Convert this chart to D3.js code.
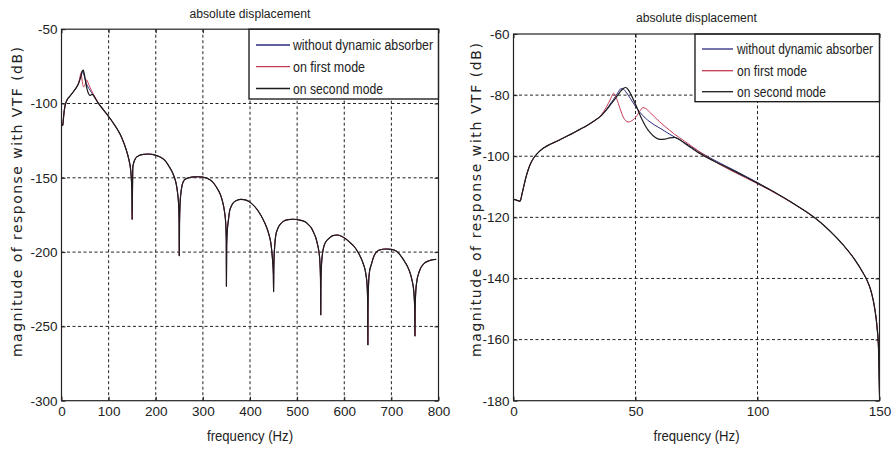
<!DOCTYPE html>
<html>
<head>
<meta charset="utf-8">
<script src="https://cdn.jsdelivr.net/npm/d3@7"></script>
<style>
  body { margin: 0; background: #fff; }
  svg text { font-family: "Liberation Sans", Arial, sans-serif; fill: #222; }
</style>
</head>
<body>
<svg id="chart" width="896" height="449"></svg>
<script>
// ---- response data (dB) ----
// low-frequency range, where the three configurations differ
const freqLow = [0, 1, 2, 2.7, 3.5, 4, 5, 6, 7, 8, 9, 10, 12, 15, 18, 21, 24, 27, 30, 33,
  36, 38, 40, 41, 42, 43, 44, 45, 46, 47, 48, 50, 52, 53, 54, 56, 58, 60, 62, 64,
  66, 68, 70, 73, 76, 80, 85, 90, 95, 100, 105, 110, 115, 120, 125, 130, 135, 140, 143, 145,
  146, 147, 148, 149, 149.6];

const withoutAbsorber = [-114.1, -114.3, -114.6, -114.7, -112.3, -110.6, -107.2, -104.5, -102.4, -100.9, -99.8, -98.9, -97.5, -96.1, -95.0, -93.8, -92.6, -91.3, -90.0, -88.5,
  -86.6, -84.8, -82.5, -81.4, -80.2, -78.9, -77.9, -78.0, -78.9, -80.0, -81.2, -83.7, -85.8, -86.7, -87.5, -88.8, -89.9, -90.8, -91.8, -92.8,
  -93.7, -94.6, -95.5, -97.0, -98.5, -100.3, -102.4, -104.4, -106.5, -108.6, -110.9, -113.2, -115.6, -118.2, -121.1, -124.7, -128.9, -134.0, -137.8, -140.8,
  -142.8, -145.6, -149.6, -156.0, -163.0];

const onFirstMode = [-114.1, -114.3, -114.6, -114.7, -112.3, -110.6, -107.2, -104.5, -102.4, -100.9, -99.8, -98.9, -97.5, -96.1, -95.0, -93.8, -92.6, -91.3, -90.0, -88.5,
  -86.4, -84.0, -80.9, -79.4, -80.6, -82.8, -85.2, -87.2, -88.4, -88.8, -88.6, -87.3, -85.0, -84.1, -84.3, -85.7, -87.3, -88.8, -90.2, -91.5,
  -92.8, -93.9, -95.0, -96.7, -98.4, -100.5, -102.9, -105.0, -107.0, -109.0, -111.1, -113.3, -115.7, -118.2, -121.1, -124.7, -128.9, -134.0, -137.8, -140.8,
  -142.8, -145.6, -149.6, -156.0, -163.0];

const onSecondMode = [-114.1, -114.3, -114.6, -114.7, -112.3, -110.6, -107.2, -104.5, -102.4, -100.9, -99.8, -98.9, -97.5, -96.1, -95.0, -93.8, -92.6, -91.3, -90.0, -88.5,
  -86.7, -84.9, -82.9, -81.9, -80.8, -79.7, -78.6, -77.8, -77.5, -78.2, -79.6, -83.0, -86.8, -88.5, -90.0, -92.3, -93.8, -94.5, -94.4, -94.0,
  -93.8, -94.5, -95.7, -97.3, -98.9, -100.7, -102.7, -104.7, -106.7, -108.8, -110.9, -113.2, -115.6, -118.2, -121.1, -124.7, -128.9, -134.0, -137.8, -140.8,
  -142.8, -145.6, -149.6, -156.0, -163.0];

// high-frequency range, identical for all three configurations
const freqHigh = [150, 150.6, 151.3, 153, 157, 162, 168, 176, 185, 195, 205, 214, 222, 228.5, 234, 239, 243, 246.4, 248.5, 249.6,
  250, 250.5, 251.5, 253.5, 256, 260.5, 266, 272, 282, 291, 300, 310, 318, 325, 332, 338, 342.5, 346, 348.5, 349.7,
  350, 350.5, 352, 354, 356.5, 360, 363.5, 370.6, 381, 390, 398.5, 407, 416, 423, 430, 436, 440.5, 444, 446, 448, 449.6,
  450, 450.5, 452, 454.3, 459.2, 465, 470, 480.6, 492, 503, 516.4, 524, 530.7, 536, 540, 543, 545.7, 548.5, 549.7,
  550, 550.4, 551.5, 553.5, 556.5, 561, 568, 576, 585, 594, 603.6, 612, 621.5, 629, 635.8, 641, 645, 648.7, 649.7,
  650, 650.3, 651.5, 653.6, 657.2, 664, 674.7, 688.8, 700, 710, 717, 723.8, 729, 734.4, 739.5, 743.7, 747.9, 749.6,
  750, 750.4, 751.5, 753.4, 759.1, 769.6, 780.2, 788, 795];

const tailResponse = [-178, -160, -143, -140.2, -137, -135.5, -134.6, -134.2, -134, -134.4, -135.4, -136.9, -139.3, -142.5, -145.5, -149.3, -153.5, -160.4, -168, -180,
  -202.5, -180, -168, -160, -155, -151.6, -150.4, -149.8, -149.4, -149.3, -149.6, -150.5, -152, -154.5, -158, -162, -167, -173, -181, -192,
  -223, -195, -185, -179, -172.8, -169.3, -167.2, -165.4, -164.5, -164.9, -166.1, -168.4, -171.7, -175.2, -179.5, -184, -188.5, -193.5, -198.6, -206, -215,
  -226.6, -210, -198, -189.6, -184, -181, -179.5, -178.2, -177.9, -178.3, -179.5, -181.5, -184, -187.5, -190.7, -194.5, -198.6, -207.5, -220,
  -242.3, -222, -210, -202, -196.5, -193, -190.7, -188.9, -188.5, -189.3, -191.2, -193.5, -196.4, -200, -204.2, -208.5, -213.2, -223.3, -235,
  -262.5, -240, -222, -213.2, -208.7, -202, -198.6, -197.9, -198.2, -199.2, -201.3, -204.2, -206.8, -209.8, -213.8, -218.8, -227.7, -240,
  -256.5, -240, -228, -221, -213.2, -207.6, -205.8, -205.1, -204.9];

const seriesNames = ["without dynamic absorber", "on first mode", "on second mode"];
const seriesLow = [withoutAbsorber, onFirstMode, onSecondMode];
const seriesColors = ["#2b2b82", "#c63a55", "#1c1c1c"];
const seriesWidths = [1.0, 1.0, 1.2];

// tick labels for the two panels
const leftXTicks = [0, 100, 200, 300, 400, 500, 600, 700, 800];
const leftYTicks = [-300, -250, -200, -150, -100, -50];
const rightXTicks = [0, 50, 100, 150];
const rightYTicks = [-180, -160, -140, -120, -100, -80, -60];

const panelTitle = "absolute displacement";
const xLabel = "frequency (Hz)";
const yLabel = "magnitude of response with VTF (dB)";

// ---- build full series ----
const fullSeries = seriesLow.map((vals, k) => ({
  name: seriesNames[k],
  color: seriesColors[k],
  width: seriesWidths[k],
  points: freqLow.map((f, i) => [f, vals[i]])
    .concat(freqHigh.map((f, i) => [f, tailResponse[i]]))
}));

const svg = d3.select("#chart");

function drawPanel(cfg) {
  const g = svg.append("g");
  const x = d3.scaleLinear().domain(cfg.xDomain).range([cfg.left, cfg.right]);
  const y = d3.scaleLinear().domain(cfg.yDomain).range([cfg.bottom, cfg.top]);

  // dashed grid
  g.append("g").selectAll("line")
    .data(cfg.xTicks.filter(t => t !== cfg.xDomain[0] && t !== cfg.xDomain[1]))
    .join("line")
    .attr("x1", d => x(d)).attr("x2", d => x(d))
    .attr("y1", cfg.top).attr("y2", cfg.bottom)
    .attr("stroke", "#222").attr("stroke-width", 1).attr("stroke-dasharray", "3,2.5");
  g.append("g").selectAll("line")
    .data(cfg.yTicks.filter(t => t !== cfg.yDomain[0] && t !== cfg.yDomain[1]))
    .join("line")
    .attr("x1", cfg.left).attr("x2", cfg.right)
    .attr("y1", d => y(d)).attr("y2", d => y(d))
    .attr("stroke", "#222").attr("stroke-width", 1).attr("stroke-dasharray", "3,2.5");

  // curves
  const clipId = "clip-" + cfg.id;
  g.append("clipPath").attr("id", clipId).append("rect")
    .attr("x", cfg.left).attr("y", cfg.top)
    .attr("width", cfg.right - cfg.left).attr("height", cfg.bottom - cfg.top);
  const line = d3.line().x(d => x(d[0])).y(d => y(d[1])).curve(d3.curveMonotoneX);
  g.append("g").attr("clip-path", `url(#${clipId})`)
    .selectAll("path")
    .data(fullSeries)
    .join("path")
    .attr("d", s => line(s.points.filter(p => p[0] <= cfg.xDomain[1])))
    .attr("fill", "none")
    .attr("stroke", s => s.color)
    .attr("stroke-width", s => s.width)
    .attr("stroke-linejoin", "round");

  // axes with inward ticks
  const fmt = d => String(d);
  const xb = g.append("g").attr("transform", `translate(0,${cfg.bottom})`)
    .call(d3.axisBottom(x).tickValues(cfg.xTicks).tickSize(-4).tickSizeOuter(0).tickPadding(6).tickFormat(fmt));
  const yl = g.append("g").attr("transform", `translate(${cfg.left},0)`)
    .call(d3.axisLeft(y).tickValues(cfg.yTicks).tickSize(-4).tickSizeOuter(0).tickPadding(4).tickFormat(fmt));
  const xt = g.append("g").attr("transform", `translate(0,${cfg.top})`)
    .call(d3.axisTop(x).tickValues(cfg.xTicks).tickSize(-4).tickSizeOuter(0).tickFormat(""));
  const yr = g.append("g").attr("transform", `translate(${cfg.right},0)`)
    .call(d3.axisRight(y).tickValues(cfg.yTicks).tickSize(-4).tickSizeOuter(0).tickFormat(""));
  [xb, yl, xt, yr].forEach(a => {
    a.select(".domain").remove();
    a.selectAll("line").attr("stroke", "#222");
    a.selectAll("text").attr("font-size", 13.5).attr("fill", "#222")
      .style("font-family", '"Liberation Sans", Arial, sans-serif');
  });

  // legend
  const lg = g.append("g");
  lg.append("rect")
    .attr("x", cfg.legend.x0).attr("y", cfg.top)
    .attr("width", cfg.right - cfg.legend.x0).attr("height", cfg.legend.y1 - cfg.top)
    .attr("fill", "#fff").attr("stroke", "#111").attr("stroke-width", 1.3);
  fullSeries.forEach((s, k) => {
    const yy = cfg.legend.rows[k];
    lg.append("line")
      .attr("x1", cfg.legend.lx0).attr("x2", cfg.legend.lx1)
      .attr("y1", yy).attr("y2", yy)
      .attr("stroke", s.color).attr("stroke-width", 1.3);
    lg.append("text")
      .attr("x", cfg.legend.tx).attr("y", yy + 5)
      .attr("font-size", 14)
      .attr("textLength", cfg.legend.widths[k]).attr("lengthAdjust", "spacingAndGlyphs")
      .text(s.name);
  });

  // frame
  g.append("rect")
    .attr("x", cfg.left).attr("y", cfg.top)
    .attr("width", cfg.right - cfg.left).attr("height", cfg.bottom - cfg.top)
    .attr("fill", "none").attr("stroke", "#222").attr("stroke-width", 1.2);

  // titles and labels
  g.append("text")
    .attr("x", (cfg.left + cfg.right) / 2).attr("y", cfg.titleY)
    .attr("text-anchor", "middle").attr("font-size", 12.5)
    .attr("textLength", 121).attr("lengthAdjust", "spacingAndGlyphs")
    .text(panelTitle);
  g.append("text")
    .attr("x", (cfg.left + cfg.right) / 2).attr("y", 441)
    .attr("text-anchor", "middle").attr("font-size", 14)
    .attr("textLength", 86).attr("lengthAdjust", "spacingAndGlyphs")
    .text(xLabel);
  g.append("text")
    .attr("transform", `translate(${cfg.yLabelX},${cfg.yLabelY}) rotate(-90)`)
    .attr("text-anchor", "middle").attr("font-size", 14)
    .attr("textLength", cfg.yLabelLen).attr("lengthAdjust", "spacing")
    .style("font-family", '"DejaVu Sans", sans-serif')
    .text(yLabel);
}

drawPanel({
  id: "full", xDomain: [0, 800], yDomain: [-300, -50],
  left: 61.5, right: 438.5, top: 29.2, bottom: 400.7,
  xTicks: leftXTicks, yTicks: leftYTicks,
  titleY: 18, yLabelX: 22, yLabelY: 202, yLabelLen: 310,
  legend: { x0: 249, y1: 99, lx0: 256, lx1: 290, tx: 293, rows: [45, 66.7, 88.5], widths: [140, 72, 90] }
});

drawPanel({
  id: "zoom", xDomain: [0, 150], yDomain: [-180, -60],
  left: 513.5, right: 879.5, top: 34, bottom: 400.7,
  xTicks: rightXTicks, yTicks: rightYTicks,
  titleY: 22, yLabelX: 481, yLabelY: 200, yLabelLen: 314,
  legend: { x0: 695, y1: 101.7, lx0: 702, lx1: 733, tx: 737, rows: [49, 70.7, 91.7], widths: [136, 70, 89] }
});
</script>
</body>
</html>
